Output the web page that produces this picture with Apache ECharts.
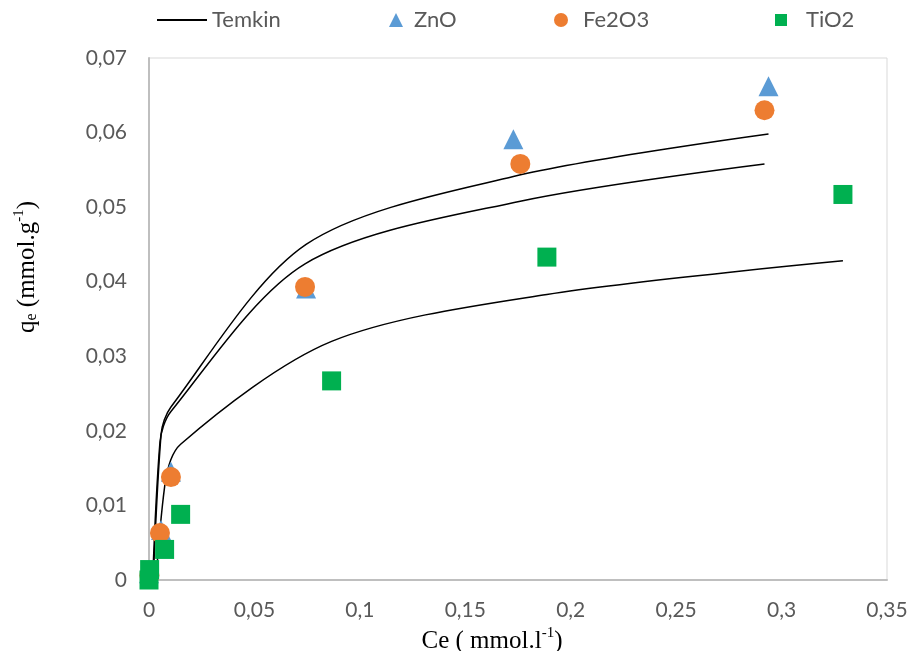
<!DOCTYPE html>
<html>
<head>
<meta charset="utf-8">
<script src="https://cdn.jsdelivr.net/npm/echarts@6/dist/echarts.min.js"></script>
<style>
  html, body { margin: 0; padding: 0; background: #fff; }
  #chart { width: 910px; height: 651px; }
</style>
</head>
<body>
<div id="chart"></div>
<script>
// Measured equilibrium points (Ce in mmol/l, qe in mmol/g)
const znoCe   = [0, 0.0057, 0.0104, 0.0745, 0.1728, 0.2938];
const znoQe   = [0.0009, 0.0067, 0.0145, 0.0391, 0.0591, 0.0662];
const fe2o3Ce = [0.0002, 0.0052, 0.0104, 0.0740, 0.1761, 0.2919];
const fe2o3Qe = [0.0006, 0.0063, 0.0138, 0.0393, 0.0558, 0.0630];
const tio2Ce  = [0, 0.0003, 0.0074, 0.0150, 0.0866, 0.1887, 0.3291];
const tio2Qe  = [0, 0.0014, 0.0041, 0.0088, 0.0267, 0.0433, 0.0517];

// Temkin model values at the measured concentrations
const temkinZnoCe   = [0.0003, 0.0057, 0.0104, 0.0745, 0.1728, 0.2938];
const temkinZnoQe   = [-0.0132, 0.0195, 0.0232, 0.0450, 0.0541, 0.0598];
const temkinFe2o3Ce = [0.0003, 0.0052, 0.0104, 0.0740, 0.1761, 0.2919];
const temkinFe2o3Qe = [-0.0123, 0.0185, 0.0226, 0.0424, 0.0508, 0.0558];
const temkinTio2Ce  = [0.0003, 0.0074, 0.0150, 0.0866, 0.1887, 0.3291];
const temkinTio2Qe  = [-0.0138, 0.0125, 0.0182, 0.0320, 0.0383, 0.0428];

// Tick labels (decimal comma)
const xTickLabels = ['0', '0,05', '0,1', '0,15', '0,2', '0,25', '0,3', '0,35'];
const yTickLabels = ['0', '0,01', '0,02', '0,03', '0,04', '0,05', '0,06', '0,07'];

const pairs = (xs, ys) => xs.map((x, i) => [x, ys[i]]);

const labelFont = 'Lato, "Open Sans", sans-serif';
const titleFont = '"Liberation Serif", "Times New Roman", serif';
const tickColor = '#595959';

const temkinLine = (xs, ys) => ({
  name: 'Temkin',
  type: 'line',
  data: pairs(xs, ys),
  smooth: 0.3,
  symbol: 'none',
  clip: true,
  itemStyle: { color: '#000000' },
  lineStyle: { color: '#000000', width: 1.5 },
  z: 2
});

const scatter = (name, xs, ys, symbol, size, color) => ({
  name,
  type: 'scatter',
  data: pairs(xs, ys),
  symbol,
  symbolSize: size,
  itemStyle: { color, opacity: 1 },
  z: 3
});

const legendText = (pad) => ({
  fontFamily: labelFont, fontSize: 22, color: tickColor, padding: [0, 0, 0, pad]
});

const legendBase = { top: 4, selectedMode: false };

const titleRich = {
  t: { fontFamily: titleFont, fontSize: 25, color: '#000', lineHeight: 28, verticalAlign: 'bottom' },
  sub: { fontFamily: titleFont, fontSize: 16, color: '#000', lineHeight: 22, verticalAlign: 'bottom' },
  sup: { fontFamily: titleFont, fontSize: 15, color: '#000', lineHeight: 28, verticalAlign: 'top' }
};

const option = {
  animation: false,
  backgroundColor: '#ffffff',
  grid: {
    left: 149, right: 23, top: 58, bottom: 71,
    outerBoundsMode: 'none',
    containLabel: false,
    show: true, borderColor: '#d9d9d9', borderWidth: 1
  },
  legend: [
    Object.assign({}, legendBase, {
      left: 151, data: ['Temkin'], itemWidth: 50, itemHeight: 14,
      itemStyle: { opacity: 0 },
      textStyle: legendText(0)
    }),
    Object.assign({}, legendBase, {
      left: 384, data: ['ZnO'], itemWidth: 14, itemHeight: 14,
      textStyle: legendText(6)
    }),
    Object.assign({}, legendBase, {
      left: 549, data: ['Fe2O3'], itemWidth: 14, itemHeight: 14,
      textStyle: legendText(10)
    }),
    Object.assign({}, legendBase, {
      left: 770, data: ['TiO2'], itemWidth: 12, itemHeight: 12,
      textStyle: legendText(14)
    })
  ],
  xAxis: {
    type: 'value',
    min: 0, max: 0.35, interval: 0.05,
    splitLine: { show: false },
    axisTick: { show: false },
    axisLine: { onZero: false, lineStyle: { color: '#bfbfbf', width: 2 } },
    axisLabel: {
      margin: 20,
      fontFamily: labelFont, fontSize: 21, color: tickColor,
      formatter: (v, i) => xTickLabels[i]
    },
    name: '{t|Ce ( mmol.l}{sup|-1}{t|)}',
    nameLocation: 'middle',
    nameGap: 26,
    nameTextStyle: { padding: [0, 52, 0, 0], rich: titleRich }
  },
  yAxis: {
    type: 'value',
    min: 0, max: 0.07, interval: 0.01,
    splitLine: { show: false },
    axisTick: { show: false },
    axisLine: { onZero: false, lineStyle: { color: '#bfbfbf', width: 2 } },
    axisLabel: {
      margin: 22,
      fontFamily: labelFont, fontSize: 21, color: tickColor,
      formatter: (v, i) => yTickLabels[i]
    },
    name: '{t|q}{sub|e}{t| (mmol.g}{sup|-1}{t|)}',
    nameLocation: 'middle',
    nameGap: 109,
    nameTextStyle: { padding: [0, 0, 0, 104], rich: titleRich }
  },
  series: [
    temkinLine(temkinZnoCe, temkinZnoQe),
    temkinLine(temkinFe2o3Ce, temkinFe2o3Qe),
    temkinLine(temkinTio2Ce, temkinTio2Qe),
    scatter('ZnO', znoCe, znoQe, 'triangle', 20, '#5B9BD5'),
    scatter('Fe2O3', fe2o3Ce, fe2o3Qe, 'circle', 20, '#ED7D31'),
    scatter('TiO2', tio2Ce, tio2Qe, 'rect', 19, '#00B050')
  ]
};

const chart = echarts.init(document.getElementById('chart'), null, { renderer: 'canvas' });
chart.setOption(option);
</script>
</body>
</html>
